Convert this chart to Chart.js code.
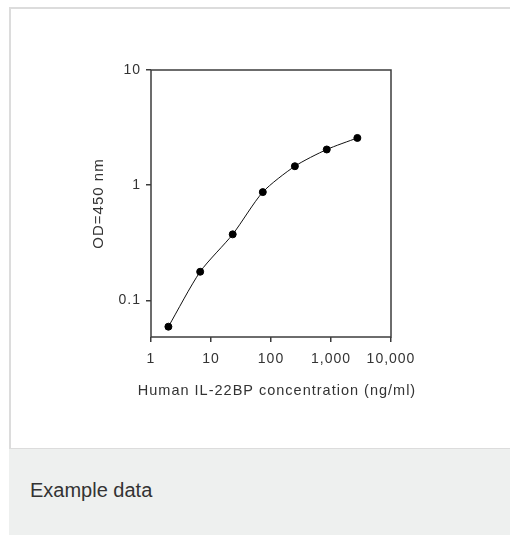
<!DOCTYPE html>
<html>
<head>
<meta charset="utf-8">
<script src="https://cdn.jsdelivr.net/npm/chart.js@4"></script>
<style>
  html, body { margin: 0; padding: 0; background: #fff; width: 510px; height: 535px; overflow: hidden; }
  #card { position: absolute; left: 9px; top: 7px; width: 520px; height: 440px; border-top: 2px solid #dcdcdc; border-left: 2px solid #dcdcdc; }
  #footer { position: absolute; left: 9px; top: 448px; width: 520px; height: 100px; background: #eef0ef; border-top: 1px solid #dcdcdc; }
  #footer span { position: absolute; left: 21px; top: 30px; font: 20px "Liberation Sans", Arial, sans-serif; color: #333; }
  #wrap { position: absolute; left: 0; top: 0; width: 510px; height: 448px; }
</style>
</head>
<body>
<div id="card"></div>
<div id="footer"><span>Example data</span></div>
<div id="wrap"><canvas id="curve"></canvas></div>
<script>
  // Human IL-22BP standard curve
  const concentration = [1.95, 6.6, 23, 73, 250, 850, 2750];
  const od450 = [0.059, 0.177, 0.374, 0.87, 1.46, 2.04, 2.57];
  const xTicks = [1, 10, 100, 1000, 10000];
  const yTicks = [0.1, 1, 10];
  const xTitle = "Human IL-22BP concentration (ng/ml)";
  const yTitle = "OD=450 nm";

  const axisColor = "#3c3c3c";
  const textColor = "#333";
  const fontFamily = '"Liberation Sans", Arial, sans-serif';

  const spacing = {
    id: "spacing",
    beforeUpdate(chart) { chart.ctx.letterSpacing = "1px"; },
    beforeDraw(chart) { chart.ctx.letterSpacing = "1px"; },
  };

  // plot frame + x title (the title is wider than the plot, so axis title would squeeze it)
  const frame = {
    id: "frame",
    afterDatasetsDraw(chart) {
      const { ctx, chartArea } = chart;
      ctx.save();
      ctx.strokeStyle = axisColor;
      ctx.lineWidth = 1.5;
      ctx.strokeRect(chartArea.left, chartArea.top, chartArea.right - chartArea.left, chartArea.bottom - chartArea.top);
      ctx.restore();
    },
    afterDraw(chart) {
      const { ctx, chartArea } = chart;
      ctx.save();
      ctx.letterSpacing = "1px";
      ctx.fillStyle = textColor;
      ctx.font = "14.5px " + fontFamily;
      ctx.textAlign = "center";
      ctx.textBaseline = "middle";
      ctx.fillText(xTitle, (chartArea.left + chartArea.right) / 2 + 6, chartArea.bottom + 54);
      ctx.restore();
    },
  };

  const ctx = document.getElementById("curve").getContext("2d");
  new Chart(ctx, {
    type: "scatter",
    data: {
      datasets: [
        {
          label: "OD",
          data: concentration.map((c, i) => ({ x: c, y: od450[i] })),
          showLine: true,
          borderColor: "#111",
          borderWidth: 1,
          tension: 0.25,
          pointRadius: 3.5,
          pointBackgroundColor: "#000",
          pointBorderColor: "#000",
        },
      ],
    },
    options: {
      responsive: true,
      maintainAspectRatio: false,
      animation: false,
      layout: {
        padding: { left: 85, top: 70, right: 119, bottom: 0 },
      },
      plugins: {
        legend: { display: false },
        tooltip: { enabled: false },
      },
      scales: {
        x: {
          type: "logarithmic",
          min: 1,
          max: 10000,
          afterBuildTicks: (scale) => { scale.ticks = xTicks.map((v) => ({ value: v })); },
          afterFit: (scale) => { scale.height = 111; },
          border: { display: false },
          grid: { drawOnChartArea: false, drawTicks: true, tickLength: 5, color: axisColor, lineWidth: 1.5 },
          ticks: {
            color: textColor,
            padding: 9,
            maxRotation: 0,
            font: { family: fontFamily, size: 14 },
            callback: (v) => Number(v).toLocaleString("en-US"),
          },
          title: { display: false },
        },
        y: {
          type: "logarithmic",
          min: 0.048,
          max: 10,
          afterBuildTicks: (scale) => { scale.ticks = yTicks.map((v) => ({ value: v })); },
          afterFit: (scale) => { scale.width = 66; },
          border: { display: false },
          grid: { drawOnChartArea: false, drawTicks: true, tickLength: 5, color: axisColor, lineWidth: 1.5 },
          ticks: {
            color: textColor,
            padding: 5,
            font: { family: fontFamily, size: 14 },
            callback: (v) => String(v),
          },
          title: {
            display: true,
            text: yTitle,
            color: textColor,
            font: { family: fontFamily, size: 15 },
            padding: { top: 5, bottom: 0 },
          },
        },
      },
    },
    plugins: [spacing, frame],
  });
</script>
</body>
</html>
